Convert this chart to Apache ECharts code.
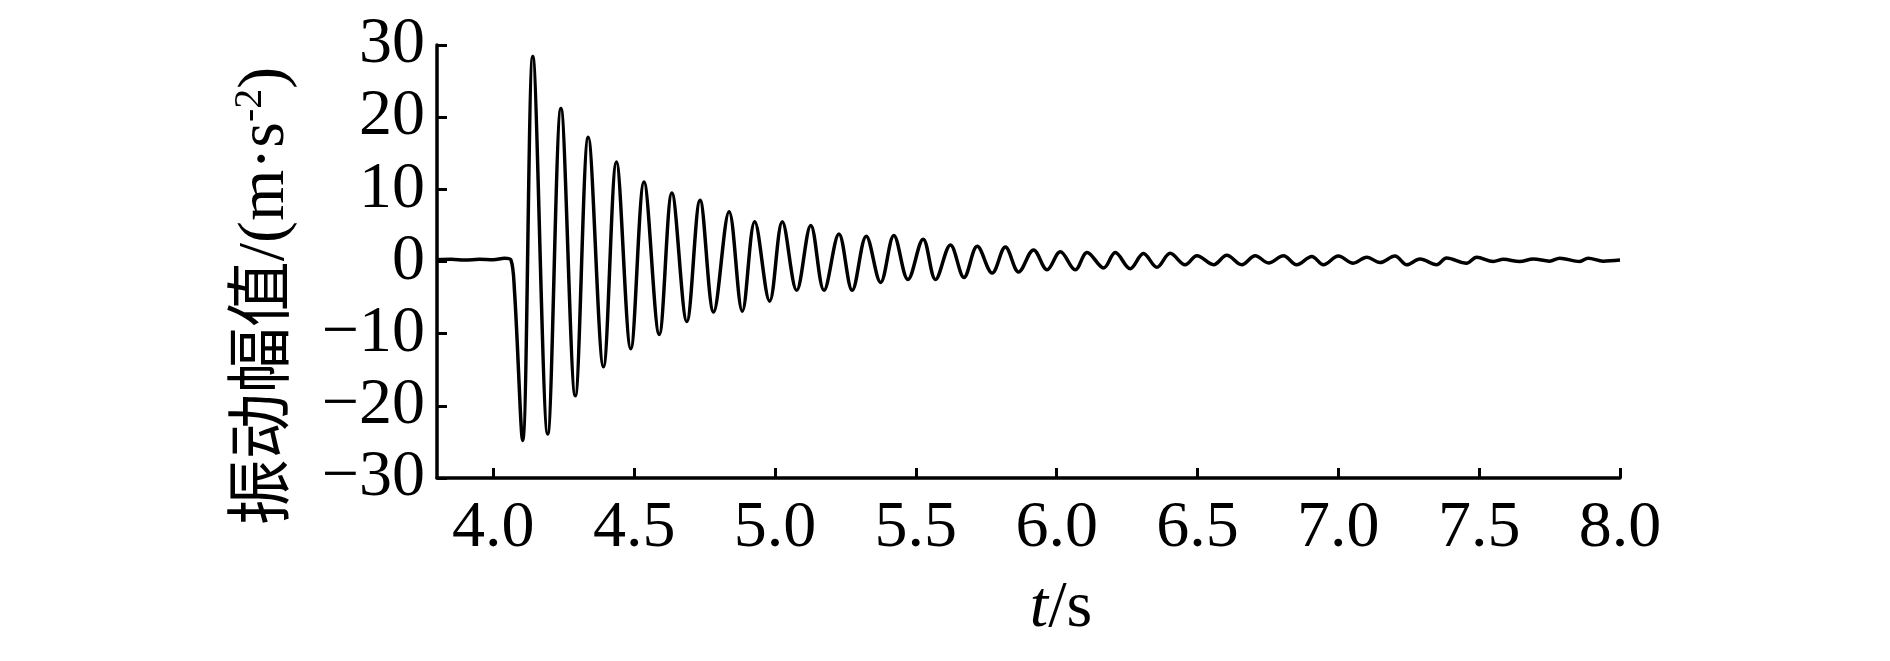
<!DOCTYPE html>
<html>
<head>
<meta charset="utf-8">
<script src="https://cdn.jsdelivr.net/npm/echarts@6/dist/echarts.min.js"></script>
<style>
html,body{margin:0;padding:0;background:#fff;}
#chart{width:1890px;height:661px;}
</style>
</head>
<body>
<div id="chart"></div>
<script>
// Time (s) of each read point: baseline, then alternating troughs / peaks
var timeS = [
  3.80, 3.85, 3.90, 3.95, 4.00, 4.04, 4.062, 4.075,
  4.104, 4.140, 4.193, 4.240, 4.291, 4.337, 4.391, 4.437,
  4.488, 4.535, 4.589, 4.634, 4.687, 4.734, 4.782, 4.837,
  4.884, 4.928, 4.981, 5.026, 5.077, 5.127, 5.174, 5.227,
  5.274, 5.324, 5.375, 5.422, 5.472, 5.526, 5.570, 5.623,
  5.671, 5.718, 5.771, 5.818, 5.865, 5.918, 5.966, 6.013,
  6.066, 6.108, 6.167, 6.208, 6.261, 6.308, 6.356, 6.403,
  6.456, 6.498, 6.557, 6.604, 6.657, 6.705, 6.752, 6.805,
  6.852, 6.906, 6.947, 7.000, 7.053, 7.101, 7.148, 7.201,
  7.243, 7.290, 7.349, 7.384, 7.455, 7.491, 7.550, 7.586,
  7.644, 7.692, 7.750, 7.786, 7.857, 7.887, 7.940, 8.000
];
// Vibration amplitude (m·s^-2) read at those times
var amplitude = [
  0.25, 0.30, 0.20, 0.30, 0.25, 0.45, 0.25, -4.0,
  -24.8, 28.4, -23.9, 21.2, -18.6, 17.2, -14.6, 13.8,
  -12.1, 11.0, -10.1, 9.5, -8.3, 8.5, -7.0, 6.9,
  -6.9, 5.5, -5.5, 5.5, -4.0, 5.0, -4.0, 3.8,
  -4.0, 3.5, -2.9, 3.6, -2.5, 3.1, -2.5, 2.3,
  -2.2, 2.1, -1.6, 2.0, -1.45, 1.6, -1.15, 1.35,
  -1.15, 1.25, -0.9, 1.25, -1.0, 1.1, -0.8, 1.15,
  -0.45, 0.8, -0.45, 0.85, -0.45, 0.8, -0.2, 0.8,
  -0.45, 0.7, -0.45, 0.75, -0.23, 0.6, -0.15, 0.75,
  -0.45, 0.35, -0.45, 0.5, -0.23, 0.6, 0.0, 0.3,
  0.0, 0.35, 0.05, 0.45, 0.0, 0.45, 0.05, 0.2
];
var xTickValues = [4.0, 4.5, 5.0, 5.5, 6.0, 6.5, 7.0, 7.5, 8.0];
var yTickValues = [-30, -20, -10, 0, 10, 20, 30];
var xName = 't/s';
var yNameMain = '振动幅值/(m·s';
var yNameSup = '-2';

var seriesData = timeS.map(function (t, i) { return [t, amplitude[i]]; });

var FONT = '"Liberation Serif", "Times New Roman", "Noto Sans CJK SC", serif';
var chart = echarts.init(document.getElementById('chart'), null, {renderer: 'canvas'});
chart.setOption({
  backgroundColor: '#ffffff',
  animation: false,
  grid: {left: 437, top: 45, right: 270, bottom: 183, containLabel: false},
  xAxis: {
    type: 'value',
    min: 3.8,
    max: 8.0,
    axisLine: {show: true, onZero: false, lineStyle: {color: '#000', width: 3.5}},
    axisTick: {show: true, inside: true, length: 10, customValues: xTickValues, lineStyle: {color: '#000', width: 3}},
    axisLabel: {
      show: true, customValues: xTickValues, margin: 51, verticalAlign: 'middle',
      fontFamily: FONT, fontSize: 66, color: '#000',
      formatter: function (v) { return v.toFixed(1); }
    },
    splitLine: {show: false}
  },
  yAxis: {
    type: 'value',
    min: -30,
    max: 30,
    interval: 10,
    axisLine: {show: true, onZero: false, lineStyle: {color: '#000', width: 3.5}},
    axisTick: {show: true, inside: true, length: 10, lineStyle: {color: '#000', width: 3}},
    axisLabel: {
      show: true, margin: 12, fontFamily: FONT, fontSize: 66, color: '#000',
      padding: [8, 0, 0, 0],
      formatter: function (v) { return v < 0 ? '\u2212' + Math.abs(v) : String(v); }
    },
    splitLine: {show: false}
  },
  series: [{
    type: 'line',
    data: seriesData,
    smooth: 0.35,
    showSymbol: false,
    symbol: 'none',
    lineStyle: {color: '#000', width: 3.5},
    clip: true
  }],
  graphic: [
    {
      type: 'text',
      x: 266, y: 296,
      rotation: Math.PI / 2,
      style: {
        text: '{a|' + yNameMain + '}{sup|' + yNameSup + '}{a|)}',
        align: 'center', verticalAlign: 'middle',
        fill: '#000',
        rich: {
          a: {fontFamily: FONT, fontSize: 66, fill: '#000', lineHeight: 72},
          sup: {fontFamily: FONT, fontSize: 40, fill: '#000', verticalAlign: 'top', lineHeight: 40}
        }
      }
    },
    {
      type: 'text',
      x: 1061, y: 609,
      style: {
        text: '{it|t}{a|/s}',
        align: 'center', verticalAlign: 'middle',
        fill: '#000',
        rich: {
          it: {fontFamily: FONT, fontSize: 66, fontStyle: 'italic', fill: '#000'},
          a: {fontFamily: FONT, fontSize: 66, fill: '#000'}
        }
      }
    }
  ]
});
</script>
</body>
</html>
